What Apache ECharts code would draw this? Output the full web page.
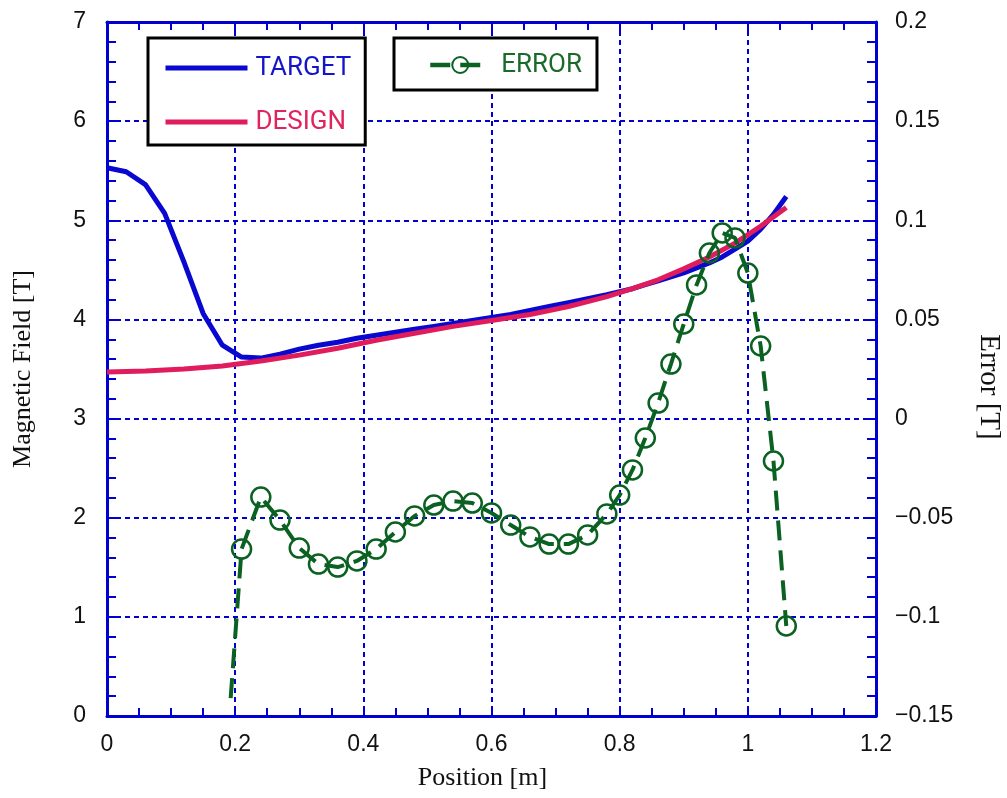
<!DOCTYPE html>
<html>
<head>
<meta charset="utf-8">
<script src="https://cdn.jsdelivr.net/npm/echarts@6/dist/echarts.min.js"></script>
<style>
html,body{margin:0;padding:0;background:#fff;}
#chart{width:1007px;height:798px;}
</style>
</head>
<body>
<div id="chart"></div>
<script>
// ---- data ----
const targetX = [0, 0.03, 0.06, 0.09, 0.12, 0.15, 0.18, 0.21, 0.24, 0.27, 0.30, 0.33, 0.36, 0.39, 0.42, 0.45, 0.48, 0.51, 0.54, 0.57, 0.60, 0.63, 0.66, 0.69, 0.72, 0.75, 0.78, 0.80, 0.82, 0.84, 0.86, 0.88, 0.90, 0.92, 0.94, 0.96, 0.98, 1.00, 1.02, 1.04, 1.06];
const targetY = [5.53, 5.49, 5.36, 5.07, 4.58, 4.06, 3.74, 3.62, 3.61, 3.65, 3.70, 3.74, 3.77, 3.81, 3.84, 3.87, 3.90, 3.93, 3.96, 3.99, 4.02, 4.05, 4.09, 4.13, 4.17, 4.21, 4.25, 4.28, 4.31, 4.35, 4.39, 4.43, 4.47, 4.52, 4.57, 4.63, 4.71, 4.79, 4.91, 5.06, 5.24];

const designX = [0, 0.06, 0.12, 0.18, 0.24, 0.30, 0.36, 0.42, 0.48, 0.54, 0.60, 0.66, 0.72, 0.78, 0.82, 0.86, 0.90, 0.94, 0.98, 1.02, 1.06];
const designY = [3.47, 3.48, 3.50, 3.53, 3.58, 3.64, 3.71, 3.79, 3.86, 3.93, 3.99, 4.05, 4.13, 4.23, 4.31, 4.40, 4.51, 4.63, 4.77, 4.94, 5.13];

const errorStart = [0.193, -0.141];   // line begins here, no marker
const errorX = [0.21, 0.24, 0.27, 0.30, 0.33, 0.36, 0.39, 0.42, 0.45, 0.48, 0.51, 0.54, 0.57, 0.60, 0.63, 0.66, 0.69, 0.72, 0.75, 0.78, 0.80, 0.82, 0.84, 0.86, 0.88, 0.90, 0.92, 0.94, 0.96, 0.98, 1.00, 1.02, 1.04, 1.06];
const errorY = [-0.0658, -0.0396, -0.0512, -0.0653, -0.0734, -0.0749, -0.0718, -0.0658, -0.0572, -0.0491, -0.0436, -0.0416, -0.0426, -0.0476, -0.0537, -0.0597, -0.0633, -0.0633, -0.0587, -0.0481, -0.0386, -0.0259, -0.0098, 0.0078, 0.0275, 0.0477, 0.0674, 0.0835, 0.0936, 0.0911, 0.0734, 0.0366, -0.0214, -0.1046];

const seriesNames = ['TARGET', 'DESIGN', 'ERROR'];
const xAxisName = 'Position [m]';
const yAxisName = 'Magnetic Field [T]';
const y2AxisName = 'Error [T]';

// ---- styles ----
const AXIS_BLUE = '#0000d0';
const C_TARGET = '#0808d0';
const C_DESIGN = '#e01c5c';
const C_ERROR = '#0b6122';

const pairs = (xs, ys) => xs.map((x, i) => [x, ys[i]]);
const errorData = [{ value: errorStart, symbol: 'none' }].concat(pairs(errorX, errorY));

const labelFont = { color: '#111', fontFamily: 'Liberation Sans, Arial, sans-serif', fontSize: 23 };
const nameFont = { color: '#111', fontFamily: 'Liberation Serif, Times New Roman, serif', fontSize: 26 };
const gridLine = { show: true, lineStyle: { color: AXIS_BLUE, width: 2, type: [5, 4] } };
const axLine = { show: true, onZero: false, lineStyle: { color: AXIS_BLUE, width: 3 } };
const tick = { show: true, inside: true, length: 9, lineStyle: { color: AXIS_BLUE, width: 2 } };

const chart = echarts.init(document.getElementById('chart'), null, { renderer: 'canvas' });
chart.setOption({
  animation: false,
  backgroundColor: '#fff',
  grid: { left: 107, right: 131, top: 22, bottom: 82, containLabel: false, outerBoundsMode: 'none' },
  legend: [
    {
      data: [
        { name: seriesNames[0], textStyle: { color: '#1414c8' } },
        { name: seriesNames[1], textStyle: { color: '#e0245e' } }
      ],
      orient: 'vertical',
      left: 148, top: 38,
      padding: [17, 14, 10, 15],
      itemGap: 28,
      itemWidth: 82, itemHeight: 20,
      borderColor: '#000', borderWidth: 3,
      backgroundColor: '#fff',
      itemStyle: { opacity: 0 },
      lineStyle: { width: 5 },
      textStyle: { fontFamily: 'Roboto, sans-serif', fontSize: 26, padding: [0, 0, 0, 3] }
    },
    {
      data: [{ name: seriesNames[2], textStyle: { color: '#1a6a2a' } }],
      left: 394, top: 38,
      padding: [14, 15, 12, 34],
      itemWidth: 60, itemHeight: 20,
      borderColor: '#000', borderWidth: 3,
      backgroundColor: '#fff',
      lineStyle: { width: 4.5 },
      textStyle: { fontFamily: 'Roboto, sans-serif', fontSize: 26, padding: [0, 0, 0, 6] }
    }
  ],
  xAxis: [
    {
      type: 'value', position: 'bottom', min: 0, max: 1.2, interval: 0.2,
      name: xAxisName, nameLocation: 'middle', nameGap: 49,
      nameTextStyle: Object.assign({}, nameFont, { padding: [0, 18, 0, 0] }),
      axisLine: axLine, axisTick: tick,
      minorTick: { show: true, splitNumber: 4, length: 8, lineStyle: { color: AXIS_BLUE, width: 2 } },
      splitLine: gridLine,
      axisLabel: Object.assign({}, labelFont, { margin: 17 })
    },
    {
      type: 'value', position: 'top', min: 0, max: 1.2, interval: 0.2,
      axisLine: axLine, axisTick: tick,
      minorTick: { show: true, splitNumber: 4, length: 8, lineStyle: { color: AXIS_BLUE, width: 2 } },
      splitLine: { show: false },
      axisLabel: { show: false }
    }
  ],
  yAxis: [
    {
      type: 'value', position: 'left', min: 0, max: 7, interval: 1,
      name: yAxisName, nameLocation: 'middle', nameGap: 71, nameRotate: 90,
      nameTextStyle: nameFont,
      axisLine: axLine, axisTick: tick,
      minorTick: { show: true, splitNumber: 5, length: 9, lineStyle: { color: AXIS_BLUE, width: 2 } },
      splitLine: gridLine,
      axisLabel: Object.assign({}, labelFont, { margin: 21 })
    },
    {
      type: 'value', position: 'right', min: -0.15, max: 0.2, interval: 0.05,
      name: y2AxisName, nameLocation: 'middle', nameGap: 98, nameRotate: -90,
      nameTextStyle: Object.assign({}, nameFont, { fontSize: 29, padding: [0, 0, 0, 36] }),
      axisLine: axLine, axisTick: tick,
      minorTick: { show: true, splitNumber: 5, length: 9, lineStyle: { color: AXIS_BLUE, width: 2 } },
      splitLine: { show: false },
      axisLabel: Object.assign({}, labelFont, {
        margin: 19,
        formatter: v => { const r = parseFloat(Number(v).toFixed(3)); return r < 0 ? '\u2212' + String(-r) : String(r); }
      })
    }
  ],
  series: [
    {
      name: seriesNames[0], type: 'line', xAxisIndex: 0, yAxisIndex: 0,
      data: pairs(targetX, targetY), showSymbol: false, symbol: 'none',
      lineStyle: { color: C_TARGET, width: 5 }, itemStyle: { color: C_TARGET }, z: 3
    },
    {
      name: seriesNames[1], type: 'line', xAxisIndex: 0, yAxisIndex: 0,
      data: pairs(designX, designY), showSymbol: false, symbol: 'none',
      lineStyle: { color: C_DESIGN, width: 5 }, itemStyle: { color: C_DESIGN }, z: 4
    },
    {
      name: seriesNames[2], type: 'line', xAxisIndex: 0, yAxisIndex: 1,
      data: errorData, symbol: 'circle', symbolSize: 19, showAllSymbol: true,
      lineStyle: { color: C_ERROR, width: 4, type: [20, 10] },
      itemStyle: { color: 'rgba(255,255,255,0)', borderColor: C_ERROR, borderWidth: 2.5 },
      z: 5
    }
  ]
});
</script>
</body>
</html>
